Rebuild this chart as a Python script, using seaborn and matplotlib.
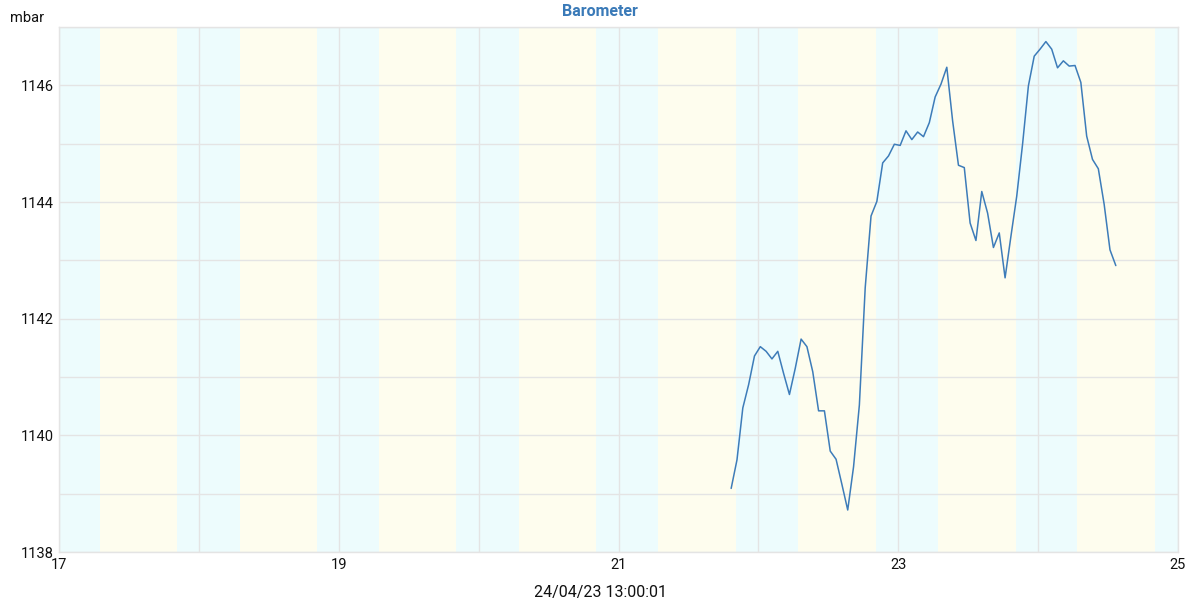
import numpy as np
import pandas as pd
import seaborn as sns
import matplotlib.pyplot as plt

# hourly pressure readings (mbar), first reading 21 Apr ~19:20
start_day = 21 + 19.33 / 24
pressure = [1139.09, 1139.58, 1140.47, 1140.87, 1141.36, 1141.52, 1141.44, 1141.31,
            1141.44, 1141.06, 1140.70, 1141.15, 1141.65, 1141.52, 1141.09, 1140.42,
            1140.42, 1139.73, 1139.59, 1139.16, 1138.72, 1139.46, 1140.52, 1142.53,
            1143.76, 1144.01, 1144.67, 1144.79, 1144.99, 1144.97, 1145.22, 1145.07,
            1145.20, 1145.12, 1145.36, 1145.80, 1146.02, 1146.31, 1145.39, 1144.63,
            1144.59, 1143.64, 1143.34, 1144.18, 1143.81, 1143.22, 1143.47, 1142.70,
            1143.41, 1144.10, 1144.99, 1145.99, 1146.50, 1146.62, 1146.75, 1146.62,
            1146.30, 1146.42, 1146.33, 1146.34, 1146.05, 1145.13, 1144.73, 1144.57,
            1143.96, 1143.18, 1142.91]

# daylight bands (day of month, sunrise hour, sunset hour)
days = [17, 18, 19, 20, 21, 22, 23, 24]
sunrise = [7.03, 7.06, 6.89, 6.91, 6.77, 6.77, 6.79, 6.65]
sunset = [20.23, 20.26, 20.11, 20.11, 20.14, 20.16, 20.18, 20.02]

x_ticks = [17, 19, 21, 23, 25]
y_ticks = [1138, 1140, 1142, 1144, 1146]
stamp = "24/04/23 13:00:01"

df = pd.DataFrame({
    "day": start_day + np.arange(len(pressure)) / 24,
    "mbar": pressure,
})

sns.set_theme(style="white")
plt.rcParams['font.family'] = ['Roboto', 'DejaVu Sans']

night_col = '#edfcfd'
day_col = '#fefdee'
grid_col = '#e4e4e4'

fig = plt.figure(figsize=(12, 6), dpi=100)
ax = fig.add_axes([59 / 1200, 48 / 600, 1119 / 1200, 525 / 600])

ax.axvspan(17, 25, color=night_col, lw=0, zorder=0)
for d, sr, ss in zip(days, sunrise, sunset):
    ax.axvspan(d + sr / 24, d + ss / 24, color=day_col, lw=0, zorder=0)

sns.lineplot(data=df, x="day", y="mbar", ax=ax, color='#3d7cb9', lw=1.1, zorder=3)

ax.set_xlim(17, 25)
ax.set_ylim(1138, 1147)
ax.set_xticks(range(17, 26), minor=True)
ax.set_xticks(x_ticks)
ax.set_yticks(range(1138, 1148), minor=True)
ax.set_yticks(y_ticks)
ax.grid(True, which='both', color=grid_col, lw=1, zorder=1)
ax.set_axisbelow(True)
ax.tick_params(which='both', length=0, labelsize=10.5, colors='#111111', pad=4)
for s in ax.spines.values():
    s.set_color(grid_col)
    s.set_linewidth(1)

ax.set_xlabel("")
ax.set_ylabel("")
# title and timestamp are centred on the figure, not the axes
fig.text(0.5, 1 - 11 / 600, "Barometer", fontsize=11.5, fontweight='bold',
         color='#3a7ab8', ha='center', va='center')
fig.text(0.5, 1 - 592 / 600, stamp, fontsize=11.5, color='#111111', ha='center', va='center')
fig.text(10 / 1200, 1 - 18 / 600, "mbar", fontsize=10.5, color='#111111', va='center', ha='left')

fig.savefig("out.png", dpi=100)
